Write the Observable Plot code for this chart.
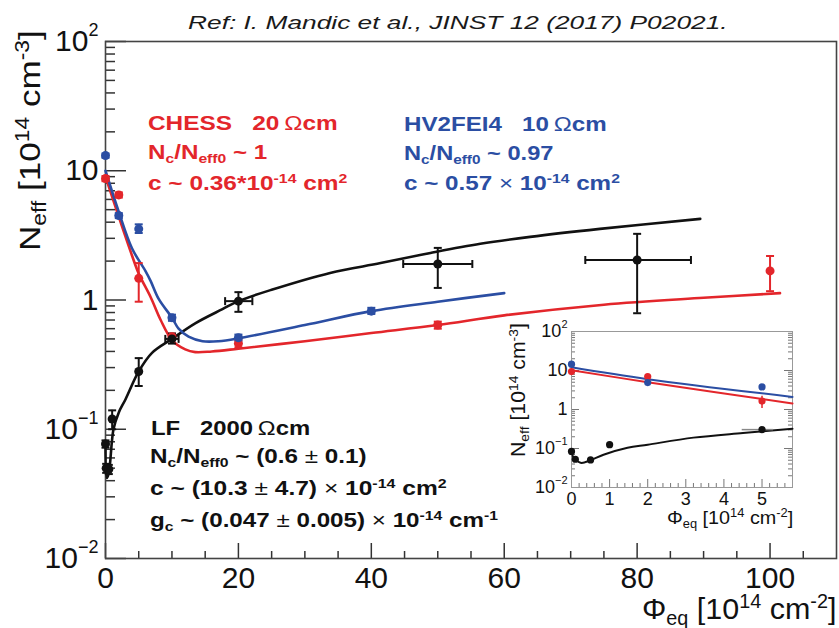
<!DOCTYPE html>
<html><head><meta charset="utf-8">
<script src="https://cdn.jsdelivr.net/npm/d3@7"></script>
<script src="https://cdn.jsdelivr.net/npm/@observablehq/plot@0.6"></script>
<style>
body{margin:0;background:#fff;font-family:"Liberation Sans",Arial,Helvetica,sans-serif;}
#wrap{position:relative;width:839px;height:628px;overflow:hidden;background:#fff;}
#wrap svg{position:absolute;}
.t{position:absolute;white-space:nowrap;line-height:1;transform-origin:0 0;left:0;top:0;}
.sup{font-size:0.65em;position:relative;top:-0.55em;}
.sub{font-size:0.65em;position:relative;top:0.3em;}
.lt{font-weight:normal;}
</style></head><body><div id="wrap"></div>
<script>
// ---------------- main panel data ----------------
const xTicks = [0, 20, 40, 60, 80, 100];
const yTicks = [0.01, 0.1, 1, 10, 100];
const yTickLabels = ["10^−2", "10^−1", "1", "10", "10^2"];

// CHESS (red)
const chessPhi  = [0, 2, 5, 10, 20, 50, 100];
const chessNeff = [8.7, 6.5, 1.47, 0.52, 0.46, 0.64, 1.68];
const chessLo   = [8.3, 6.2, 0.97, 0.49, 0.43, 0.60, 1.17];
const chessHi   = [9.1, 6.8, 1.93, 0.55, 0.49, 0.68, 2.19];
const chessFitPhi  = [0, 2, 4, 5, 6.8, 8.3, 10, 12, 13.5, 16, 20, 30, 40, 50, 60, 75, 90, 101.5];
const chessFitNeff = [9.0, 4.4, 2.2, 1.6, 1.05, 0.7, 0.49, 0.415, 0.395, 0.40, 0.42, 0.48, 0.555, 0.64, 0.76, 0.92, 1.04, 1.13];

// HV2FEI4 (blue)
const hvPhi  = [0, 2, 5, 10, 20, 40];
const hvNeff = [13.1, 4.5, 3.55, 0.73, 0.51, 0.82];
const hvLo   = [12.6, 4.3, 3.3, 0.69, 0.48, 0.78];
const hvHi   = [13.6, 4.7, 3.85, 0.77, 0.54, 0.87];
const hvFitPhi  = [0, 2, 4, 6, 6.8, 8, 10, 11, 12.5, 14.6, 17, 20, 30, 40, 50, 60];
const hvFitNeff = [10.0, 4.8, 2.5, 1.68, 1.4, 1.02, 0.73, 0.6, 0.52, 0.48, 0.48, 0.505, 0.64, 0.82, 0.97, 1.13];

// LF (black)
const lfPhi   = [0, 0.1, 0.5, 1, 5, 10, 20, 50, 80];
const lfNeff  = [0.077, 0.05, 0.049, 0.12, 0.28, 0.5, 0.98, 1.9, 2.04];
const lfLo    = [0.072, 0.046, 0.045, 0.10, 0.216, 0.46, 0.81, 1.24, 0.79];
const lfHi    = [0.082, 0.054, 0.053, 0.14, 0.355, 0.55, 1.15, 2.53, 3.25];
const lfPhiLo = [0, 0.1, 0.5, 1, 5, 9, 18, 44.8, 72.2];
const lfPhiHi = [0, 0.1, 0.5, 1, 5, 11, 22.1, 55.2, 88.1];
const lfFitPhi  = [0, 0.2, 0.5, 1.2, 2, 3, 5, 7, 10, 13.5, 17.6, 20, 25, 33.8, 41.4, 48.9, 56.4, 63.9, 74.4, 89.5];
const lfFitNeff = [0.075, 0.042, 0.046, 0.1, 0.135, 0.17, 0.28, 0.39, 0.5, 0.66, 0.85, 0.98, 1.2, 1.62, 1.93, 2.31, 2.72, 3.08, 3.55, 4.24];

// ---------------- inset data ----------------
const inXTicks = [0, 1, 2, 3, 4, 5];
const inXTickLabels = ["0", "1", "2", "3", "4", "5"];
const inChessPhi = [0, 2, 5], inChessNeff = [9.4, 7.0, 1.64], inChessLo = [9.0, 6.7, 1.06], inChessHi = [9.8, 7.3, 2.2];
const inHvPhi = [0, 2, 5], inHvNeff = [14.5, 4.9, 3.8];
const inLfPhi = [0, 0.1, 0.5, 1, 5], inLfNeff = [0.084, 0.053, 0.051, 0.125, 0.305];
const inLfPhiLo = [0, 0.1, 0.5, 1, 4.48], inLfPhiHi = [0, 0.1, 0.5, 1, 5.3];
const inChessFitPhi = [0, 2, 5.8], inChessFitNeff = [10.2, 5.0, 1.43];
const inHvFitPhi = [0, 2, 5.8], inHvFitNeff = [12.1, 6.0, 2.1];
const inLfFitPhi  = [0.03, 0.24, 0.5, 0.84, 1.47, 2, 3.2, 4.5, 5.8];
const inLfFitNeff = [0.065, 0.043, 0.05, 0.069, 0.104, 0.125, 0.19, 0.25, 0.32];

// ---------------- helpers ----------------
const RED = "#e3262b", BLUE = "#2b4ea3", BLACK = "#111";
const zip = (xs, ys, o = {}) => xs.map((x, i) => {
  const r = {x, y: ys[i]};
  for (const k in o) r[k] = o[k][i];
  return r;
});
const hCap = {draw(ctx, size) { const w = Math.sqrt(size / Math.PI); ctx.moveTo(-w, 0); ctx.lineTo(w, 0); }};
const vCap = {draw(ctx, size) { const w = Math.sqrt(size / Math.PI); ctx.moveTo(0, -w); ctx.lineTo(0, w); }};
const yMinor = [0.01, 0.1, 1, 10].flatMap(d => d3.range(2, 10).map(k => d * k));
const labelOf = (ticks, labels) => d => { const i = ticks.indexOf(d); return i >= 0 ? labels[i] : ""; };

function supTicks(svg, supSize, dy) {
  d3.select(svg).selectAll("text").each(function () {
    const t = this.textContent;
    if (!t.includes("^")) return;
    const [b, e] = t.split("^");
    const s = d3.select(this); s.text(null);
    s.append("tspan").text(b);
    s.append("tspan").attr("font-size", supSize).attr("dy", dy).text(e);
  });
}

const wrap = document.getElementById("wrap");

// ---------------- main plot ----------------
const W = 839, H = 628, mL = 105, mR = 3, mT = 41, mB = 70;
const pW = W - mL - mR, pH = H - mT - mB;

function errMarks(rows, color, sw) {
  const withY = rows.filter(d => d.lo != null);
  const withX = rows.filter(d => d.xlo != null && d.xhi - d.xlo > 0);
  return [
    Plot.ruleX(withY, {x: "x", y1: "lo", y2: "hi", stroke: color, strokeWidth: sw}),
    Plot.dot(withY, {x: "x", y: "lo", symbol: hCap, r: 4, stroke: color, strokeWidth: sw, fill: "none"}),
    Plot.dot(withY, {x: "x", y: "hi", symbol: hCap, r: 4, stroke: color, strokeWidth: sw, fill: "none"}),
    Plot.ruleY(withX, {y: "y", x1: "xlo", x2: "xhi", stroke: color, strokeWidth: sw}),
    Plot.dot(withX, {x: "xlo", y: "y", symbol: vCap, r: 4, stroke: color, strokeWidth: sw, fill: "none"}),
    Plot.dot(withX, {x: "xhi", y: "y", symbol: vCap, r: 4, stroke: color, strokeWidth: sw, fill: "none"})
  ];
}

const chessRows = zip(chessPhi, chessNeff, {lo: chessLo, hi: chessHi});
const hvRows = zip(hvPhi, hvNeff, {lo: hvLo, hi: hvHi});
const lfRows = zip(lfPhi, lfNeff, {lo: lfLo, hi: lfHi, xlo: lfPhiLo, xhi: lfPhiHi});
const xMinor = d3.range(5, 110, 5).filter(v => v % 20 !== 0);

const main = Plot.plot({
  width: W, height: H, marginLeft: mL, marginRight: mR, marginTop: mT, marginBottom: mB,
  style: {fontFamily: '"Liberation Sans", Arial, sans-serif', fontSize: "30px", color: "#111", background: "transparent"},
  x: {domain: [0, 110], ticks: xTicks, tickSize: 0, tickPadding: 8, label: null},
  y: {type: "log", domain: [0.01, 100], ticks: yTicks, tickSize: 0, tickPadding: 7, tickFormat: labelOf(yTicks, yTickLabels), label: null},
  marks: [
    Plot.ruleX(xTicks, {x: d => d, insetTop: pH - 15, stroke: "#333", strokeWidth: 1.5}),
    Plot.ruleX(xMinor, {x: d => d, insetTop: pH - 7, stroke: "#333", strokeWidth: 1.5}),
    Plot.ruleY(yTicks, {y: d => d, insetRight: pW - 21, stroke: "#333", strokeWidth: 1.5}),
    Plot.ruleY(yMinor, {y: d => d, insetRight: pW - 10, stroke: "#333", strokeWidth: 1.5}),
    Plot.frame({stroke: "#444", strokeWidth: 1.6}),
    Plot.line(zip(lfFitPhi, lfFitNeff), {x: "x", y: "y", stroke: BLACK, strokeWidth: 2.6, curve: "catmull-rom"}),
    Plot.line(zip(chessFitPhi, chessFitNeff), {x: "x", y: "y", stroke: RED, strokeWidth: 2.6, curve: "catmull-rom"}),
    Plot.line(zip(hvFitPhi, hvFitNeff), {x: "x", y: "y", stroke: BLUE, strokeWidth: 2.6, curve: "catmull-rom"}),
    ...errMarks(chessRows, RED, 2),
    ...errMarks(hvRows, BLUE, 2),
    ...errMarks(lfRows, BLACK, 2),
    Plot.dot(chessRows, {x: "x", y: "y", r: 4.5, fill: RED}),
    Plot.dot(hvRows, {x: "x", y: "y", r: 4.5, fill: BLUE}),
    Plot.dot(lfRows, {x: "x", y: "y", r: 4.5, fill: BLACK})
  ]
});
main.style.left = "0px"; main.style.top = "0px";
wrap.appendChild(main);
supTicks(main, "18px", "-15");

// ---------------- inset ----------------
const iW = 300, iH = 225, iL = 66, iR = 13, iT = 19, iB = 50;
const ipW = iW - iL - iR, ipH = iH - iT - iB;
const inXMinor = d3.range(0.2, 5.8, 0.2).filter(v => Math.abs(v - Math.round(v)) > 0.01);
const inChessRows = zip(inChessPhi, inChessNeff, {lo: inChessLo, hi: inChessHi});
const inHvRows = zip(inHvPhi, inHvNeff);
const inLfRows = zip(inLfPhi, inLfNeff, {xlo: inLfPhiLo, xhi: inLfPhiHi});

const inset = Plot.plot({
  width: iW, height: iH, marginLeft: iL, marginRight: iR, marginTop: iT, marginBottom: iB,
  style: {fontFamily: '"Liberation Sans", Arial, sans-serif', fontSize: "18px", color: "#111", background: "transparent"},
  x: {domain: [0, 5.8], ticks: inXTicks, tickSize: 0, tickPadding: 5, tickFormat: labelOf(inXTicks, inXTickLabels), label: null},
  y: {type: "log", domain: [0.01, 100], ticks: yTicks, tickSize: 0, tickPadding: 4, tickFormat: labelOf(yTicks, yTickLabels), label: null},
  marks: [
    Plot.ruleX(inXTicks, {x: d => d, insetTop: ipH - 8, stroke: "#777", strokeWidth: 1}),
    Plot.ruleX(inXMinor, {x: d => d, insetTop: ipH - 4, stroke: "#777", strokeWidth: 1}),
    Plot.ruleY(yTicks, {y: d => d, insetRight: ipW - 8, stroke: "#777", strokeWidth: 1}),
    Plot.ruleY(yMinor, {y: d => d, insetRight: ipW - 4, stroke: "#777", strokeWidth: 1}),
    Plot.ruleY(yTicks, {y: d => d, insetLeft: ipW - 8, stroke: "#777", strokeWidth: 1}),
    Plot.ruleY(yMinor, {y: d => d, insetLeft: ipW - 4, stroke: "#777", strokeWidth: 1}),
    Plot.frame({stroke: "#999", strokeWidth: 1}),
    Plot.line(zip(inLfFitPhi, inLfFitNeff), {x: "x", y: "y", stroke: BLACK, strokeWidth: 2, curve: "catmull-rom"}),
    Plot.line(zip(inChessFitPhi, inChessFitNeff), {x: "x", y: "y", stroke: RED, strokeWidth: 2, curve: "catmull-rom"}),
    Plot.line(zip(inHvFitPhi, inHvFitNeff), {x: "x", y: "y", stroke: BLUE, strokeWidth: 2, curve: "catmull-rom"}),
    Plot.ruleX(inChessRows, {x: "x", y1: "lo", y2: "hi", stroke: RED, strokeWidth: 1.5}),
    Plot.ruleY(inLfRows.filter(d => d.xhi > d.xlo), {y: "y", x1: "xlo", x2: "xhi", stroke: "#888", strokeWidth: 1.5}),
    Plot.dot(inChessRows, {x: "x", y: "y", r: 3.6, fill: RED}),
    Plot.dot(inHvRows, {x: "x", y: "y", r: 3.6, fill: BLUE}),
    Plot.dot(inLfRows, {x: "x", y: "y", r: 3.6, fill: BLACK})
  ]
});
inset.style.left = "505px"; inset.style.top = "312px";
wrap.appendChild(inset);
supTicks(inset, "11px", "-9");

// ---------------- text overlays ----------------
function place(html, o) {
  const el = document.createElement("div");
  el.className = "t";
  el.innerHTML = html + '<span class="probe" style="display:inline-block;width:0;height:0;vertical-align:baseline"></span>';
  el.style.fontSize = o.size + "px";
  el.style.fontWeight = o.weight || "normal";
  el.style.color = o.color || "#111";
  if (o.italic) el.style.fontStyle = "italic";
  wrap.appendChild(el);
  const b = el.querySelector(".probe").offsetTop;
  const w = el.offsetWidth;
  const s = o.width ? o.width / w : 1;
  if (o.rotate) {
    el.style.transform = `translate(${o.bx - b}px, ${o.y0}px) rotate(-90deg) scaleX(${s})`;
  } else {
    const x = o.right != null ? o.right - w * s : o.left;
    el.style.transform = `translate(${x}px, ${o.baseline - b}px) scaleX(${s})`;
  }
}

place("Ref: I. Mandic et al., JINST 12 (2017) P02021.", {left: 188, baseline: 29, size: 19, italic: true, width: 540, color: "#1a1a1a"});

// CHESS block
place('CHESS&nbsp;&nbsp;&nbsp;20<span class="lt">&thinsp;Ω</span>cm', {left: 148, baseline: 130, size: 19.5, weight: "bold", color: RED, width: 190});
place('N<span class="sub">c</span>/N<span class="sub">eff0</span> ~ 1', {left: 148, baseline: 159, size: 19.5, weight: "bold", color: RED, width: 119});
place('c ~ 0.36*10<span class="sup">-14</span> cm<span class="sup">2</span>', {left: 148, baseline: 190, size: 19.5, weight: "bold", color: RED, width: 199});

// HV2FEI4 block
place('HV2FEI4&nbsp;&nbsp;&nbsp;10<span class="lt">&thinsp;Ω</span>cm', {left: 404, baseline: 131, size: 19.5, weight: "bold", color: BLUE, width: 203});
place('N<span class="sub">c</span>/N<span class="sub">eff0</span> ~ 0.97', {left: 404, baseline: 160, size: 19.5, weight: "bold", color: BLUE, width: 149});
place('c ~ 0.57 <span class="lt">×</span> 10<span class="sup">-14</span> cm<span class="sup">2</span>', {left: 404, baseline: 190, size: 19.5, weight: "bold", color: BLUE, width: 216});

// LF block
place('LF&nbsp;&nbsp;&nbsp;2000<span class="lt">&thinsp;Ω</span>cm', {left: 151, baseline: 435, size: 21, weight: "bold", color: BLACK, width: 159});
place('N<span class="sub">c</span>/N<span class="sub">eff0</span> ~ (0.6 <span class="lt">±</span> 0.1)', {left: 150, baseline: 463, size: 21, weight: "bold", color: BLACK, width: 217});
place('c ~ (10.3 <span class="lt">±</span> 4.7) <span class="lt">×</span> 10<span class="sup">-14</span> cm<span class="sup">2</span>', {left: 150, baseline: 495, size: 21, weight: "bold", color: BLACK, width: 297});
place('g<span class="sub">c</span> ~ (0.047 <span class="lt">±</span> 0.005) <span class="lt">×</span> 10<span class="sup">-14</span> cm<span class="sup">-1</span>', {left: 150, baseline: 527, size: 21, weight: "bold", color: BLACK, width: 348});

// axis titles
place('N<span class="sub">eff</span> [10<span class="sup">14</span> cm<span class="sup">-3</span>]', {rotate: true, bx: 40, y0: 251, size: 30, width: 221});
place('Φ<span class="sub">eq</span> [10<span class="sup">14</span> cm<span class="sup">-2</span>]', {right: 836, baseline: 619, size: 30, width: 194});
place('N<span class="sub">eff</span> [10<span class="sup">14</span> cm<span class="sup">-3</span>]', {rotate: true, bx: 525, y0: 457, size: 20, width: 134});
place('Φ<span class="sub">eq</span> [10<span class="sup">14</span> cm<span class="sup">-2</span>]', {right: 793, baseline: 524, size: 19, width: 126});
</script></body></html>
